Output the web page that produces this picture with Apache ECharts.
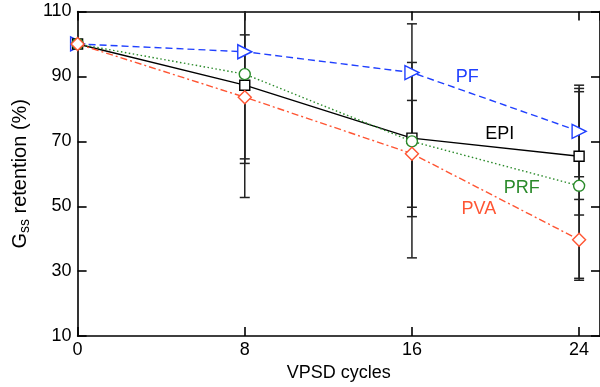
<!DOCTYPE html>
<html>
<head>
<meta charset="utf-8">
<script src="https://cdn.jsdelivr.net/npm/echarts@6/dist/echarts.min.js"></script>
<style>
html,body{margin:0;padding:0;background:#fff;}
#c{width:600px;height:387px;}
</style>
</head>
<body>
<div id="c"></div>
<script>
// ---- data ----
const cycles = [0, 8, 16, 24];
const xTicks = [0, 8, 16, 24];
const yTicks = [10, 30, 50, 70, 90, 110];

const pf  = [100, 97.6, 91.2, 73.1];
const epi = [100, 87.3, 71.0, 65.4];
const prf = [100, 90.7, 70.0, 56.3];
const pva = [100, 83.6, 66.2, 39.7];

// error bar ends (null = no bar)
const pfLow   = [null, null, null, 59.1];
const pfHigh  = [null, null, null, 87.3];
const epiLow  = [null, 52.7, 46.8, 47.3];
const epiHigh = [null, 122.0, 94.3, 86.3];
const prfLow  = [null, 63.2, 34.1, 27.2];
const prfHigh = [null, 118.0, 106.2, 85.3];
const pvaLow  = [null, 64.6, 49.7, 27.8];
const pvaHigh = [null, 102.8, 82.6, 52.1];

const seriesNames = ['PF', 'EPI', 'PRF', 'PVA'];
// label anchors in data coordinates [cycles, retention]
const labelAnchors = [[18.65, 89.7], [20.2, 72.3], [21.25, 55.5], [19.2, 49.1]];

// ---- chart ----
const X_MIN = 0, X_MAX = 25, Y_MIN = 10, Y_MAX = 110;
const FONT = 'Liberation Sans, Arial, Helvetica, sans-serif';

function pairs(ys) { return cycles.map((x, i) => [x, ys[i]]); }
function errData(lo, hi) {
  const out = [];
  cycles.forEach((x, i) => { if (lo[i] != null && hi[i] != null) out.push([x, lo[i], hi[i]]); });
  return out;
}
const allErr = [].concat(errData(pfLow, pfHigh), errData(epiLow, epiHigh),
                         errData(prfLow, prfHigh), errData(pvaLow, pvaHigh));

const colors = { PF: '#2040ff', EPI: '#000000', PRF: '#2a8a2a', PVA: '#ff5533' };

function lineSeries(name, ys, opts) {
  const idx = seriesNames.indexOf(name);
  return Object.assign({
    name: name,
    type: 'line',
    data: pairs(ys),
    z: 5 + idx,
    symbolSize: 11,
    showSymbol: true,
    lineStyle: { color: colors[name], width: 1.4 },
    itemStyle: { color: '#ffffff', borderColor: colors[name], borderWidth: 1.4 },
    emphasis: { disabled: true },
    animation: false,
    markPoint: {
      symbol: 'circle', symbolSize: 0,
      label: { show: true, formatter: name, color: colors[name], fontSize: 18, fontFamily: FONT, position: 'inside' },
      data: [{ coord: labelAnchors[idx] }],
      animation: false
    }
  }, opts);
}

const axisCommon = {
  axisLine: { show: true, onZero: false, lineStyle: { color: '#000', width: 1.6 } },
  axisTick: { show: true, inside: true, length: 9, lineStyle: { color: '#000', width: 1.6 } },
  splitLine: { show: false },
  minorTick: { show: false }
};

const chart = echarts.init(document.getElementById('c'), null, { renderer: 'canvas' });
chart.setOption({
  backgroundColor: '#ffffff',
  animation: false,
  grid: { left: 75, top: 11.5, width: 528, height: 327.5 },
  xAxis: [
    Object.assign({
      type: 'value', min: X_MIN, max: X_MAX, interval: 8, position: 'bottom',
      name: 'VPSD cycles', nameLocation: 'middle', nameGap: 22,
      nameTextStyle: { fontSize: 18, fontFamily: FONT, color: '#000' },
      axisLabel: { show: true, margin: 5, fontSize: 18, fontFamily: FONT, color: '#000', showMaxLabel: false,
                   formatter: v => (xTicks.indexOf(v) >= 0 ? String(v) : '') }
    }, axisCommon),
    Object.assign({
      type: 'value', min: X_MIN, max: X_MAX, interval: 8, position: 'top',
      axisLabel: { show: false }
    }, axisCommon)
  ],
  yAxis: [
    Object.assign({
      type: 'value', min: Y_MIN, max: Y_MAX, interval: 20, position: 'left',
      name: '{g|G}{s|ss}{g| retention (%)}', nameLocation: 'middle', nameGap: 40,
      nameTextStyle: {
        fontFamily: FONT, color: '#000',
        rich: {
          g: { fontSize: 20, fontFamily: FONT, color: '#000', lineHeight: 23 },
          s: { fontSize: 14, fontFamily: FONT, color: '#000', lineHeight: 14, padding: [10, 0, 0, 0] }
        }
      },
      axisLabel: { show: true, margin: 6, fontSize: 18, fontFamily: FONT, color: '#000',
                   formatter: v => (yTicks.indexOf(v) >= 0 ? String(v) : '') }
    }, axisCommon),
    Object.assign({
      type: 'value', min: Y_MIN, max: Y_MAX, interval: 20, position: 'right',
      axisLabel: { show: false }
    }, axisCommon)
  ],
  series: [
    {
      type: 'custom',
      name: 'err',
      z: 2,
      animation: false,
      silent: true,
      data: allErr,
      encode: { x: 0, y: [1, 2] },
      renderItem: function (params, api) {
        const x = api.value(0), lo = api.value(1), hi = api.value(2);
        const hiC = Math.min(hi, Y_MAX), loC = Math.max(lo, Y_MIN);
        const pLo = api.coord([x, loC]);
        const pHi = api.coord([x, hiC]);
        const w = 5;
        const st = { stroke: '#222', lineWidth: 1.5 };
        const children = [
          { type: 'line', shape: { x1: pLo[0], y1: pLo[1], x2: pHi[0], y2: pHi[1] }, style: st }
        ];
        if (lo >= Y_MIN) children.push({ type: 'line', shape: { x1: pLo[0] - w, y1: pLo[1], x2: pLo[0] + w, y2: pLo[1] }, style: st });
        if (hi <= Y_MAX) children.push({ type: 'line', shape: { x1: pHi[0] - w, y1: pHi[1], x2: pHi[0] + w, y2: pHi[1] }, style: st });
        return { type: 'group', children: children };
      }
    },
    lineSeries('PF', pf, { symbol: 'triangle', symbolRotate: -90, symbolSize: 14, lineStyle: { color: colors.PF, width: 1.4, type: [7, 4] } }),
    lineSeries('PRF', prf, { symbol: 'circle', symbolSize: 11, lineStyle: { color: colors.PRF, width: 1.4, type: [1.5, 2.5] } }),
    lineSeries('EPI', epi, { symbol: 'rect', symbolSize: 10, lineStyle: { color: colors.EPI, width: 1.4, type: 'solid' } }),
    lineSeries('PVA', pva, { symbol: 'diamond', symbolSize: 13, lineStyle: { color: colors.PVA, width: 1.4, type: [7, 3, 2, 3] } })
  ]
});
</script>
</body>
</html>
